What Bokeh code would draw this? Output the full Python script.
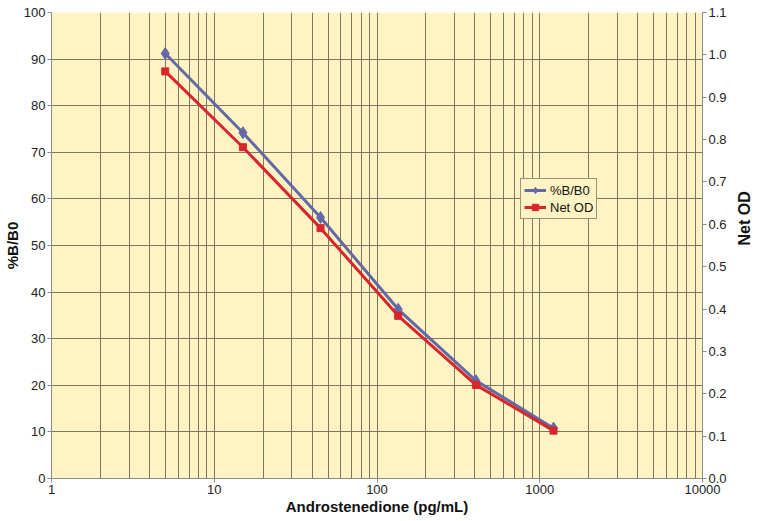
import math
from bokeh.plotting import figure
from bokeh.models import (Range1d, LinearAxis, FixedTicker, NumeralTickFormatter,
                          Legend, LegendItem)
from bokeh.embed import file_html
from bokeh.resources import INLINE

# ---- data ----
conc = [5, 15, 45, 135, 405, 1215]                 # Androstenedione (pg/mL)
pct_b_b0 = [91.2, 74.2, 56.0, 36.3, 21.0, 10.8]    # %B/B0 (left axis)
net_od = [0.961, 0.782, 0.591, 0.384, 0.221, 0.113]  # Net OD (right axis)

x_major_ticks = [1, 10, 100, 1000, 10000]
x_minor_ticks = [m * d for d in [1, 10, 100, 1000] for m in range(2, 10)]
left_ticks = [0, 10, 20, 30, 40, 50, 60, 70, 80, 90, 100]
right_ticks = [0.0, 0.1, 0.2, 0.3, 0.4, 0.5, 0.6, 0.7, 0.8, 0.9, 1.0, 1.1]

FONT = "Liberation Sans"
BLUE = "#6269A6"
RED = "#D9252C"
GRID = "#7d7862"
AXIS = "#8a8a8a"
BG = "#FFF3C4"

p = figure(width=764, height=517, x_axis_type="log",
           x_range=Range1d(1, 10000), y_range=Range1d(0, 100),
           output_backend="svg", toolbar_location=None,
           min_border_left=42, min_border_right=51,
           min_border_top=12, min_border_bottom=36)
p.extra_y_ranges = {"od": Range1d(0, 1.1)}
p.background_fill_color = BG
p.border_fill_color = "white"
p.outline_line_color = None

xt = FixedTicker(ticks=x_major_ticks, minor_ticks=x_minor_ticks)
p.xaxis.ticker = xt
p.xgrid.ticker = xt
p.xaxis.formatter = NumeralTickFormatter(format="0")
yt = FixedTicker(ticks=left_ticks)
p.yaxis.ticker = yt
p.ygrid.ticker = yt

p.xgrid.grid_line_color = GRID
p.xgrid.minor_grid_line_color = GRID
p.ygrid.grid_line_color = GRID
p.xgrid.grid_line_width = 1
p.ygrid.grid_line_width = 1

left = p.yaxis[0]
right = LinearAxis(y_range_name="od", ticker=FixedTicker(ticks=right_ticks),
                   formatter=NumeralTickFormatter(format="0.0"))
p.add_layout(right, "right")

p.xaxis.axis_label = "Androstenedione (pg/mL)"
left.axis_label = "%B/B0"
right.axis_label = "Net OD"
right.axis_label_orientation = math.pi / 2

for ax in [p.xaxis[0], left, right]:
    ax.axis_line_color = AXIS
    ax.major_tick_line_color = AXIS
    ax.major_tick_out = 4
    ax.major_tick_in = 0
    ax.minor_tick_line_color = None
    ax.major_label_text_font = FONT
    ax.major_label_text_font_size = "13px"
    ax.major_label_text_color = "#222222"
    ax.major_label_standoff = 2
    ax.axis_label_text_font = FONT
    ax.axis_label_text_font_style = "bold"
    ax.axis_label_text_color = "#111111"
    ax.axis_label_standoff = 1

left.axis_label_standoff = 0
right.axis_label_standoff = 15
p.xaxis.axis_label_text_font_size = "15px"
left.axis_label_text_font_size = "15px"
right.axis_label_text_font_size = "16px"

l1 = p.line(conc, pct_b_b0, line_color=BLUE, line_width=3)
s1 = p.scatter(conc, pct_b_b0, marker="diamond", size=12,
               fill_color=BLUE, line_color=BLUE)
l2 = p.line(conc, net_od, line_color=RED, line_width=3, y_range_name="od")
s2 = p.scatter(conc, net_od, marker="square", size=7,
               fill_color=RED, line_color=RED, y_range_name="od")

legend = Legend(items=[LegendItem(label="%B/B0", renderers=[l1, s1]),
                       LegendItem(label="Net OD", renderers=[l2, s2])],
                location=(469, 259))
legend.background_fill_color = BG
legend.background_fill_alpha = 1
legend.border_line_color = "#333333"
legend.border_line_width = 1
legend.label_text_font = FONT
legend.label_text_font_size = "13px"
legend.label_text_color = "#111111"
legend.glyph_width = 22
legend.glyph_height = 16
legend.label_height = 16
legend.label_standoff = 4
legend.spacing = 1
legend.padding = 3
legend.margin = 0
p.add_layout(legend)

open("out.html", "w").write(file_html(p, INLINE))
